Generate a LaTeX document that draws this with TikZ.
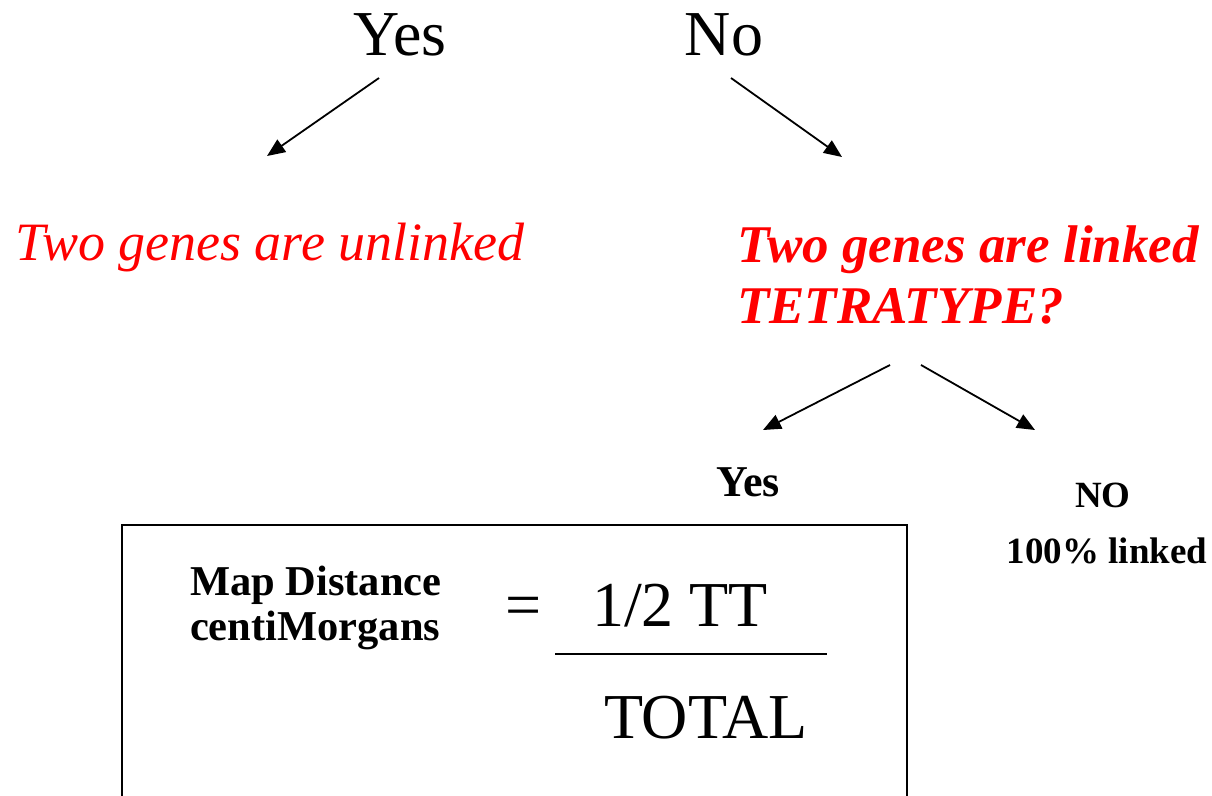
\documentclass[tikz,border=0pt]{standalone}
\usepackage{fontspec}
\setmainfont{Liberation Serif}
\usetikzlibrary{arrows.meta}
\tikzset{
  px/.style={x=1pt,y=-1pt},
  lbl/.style={inner sep=0pt,outer sep=0pt,anchor=base},
  big/.style={font=\fontsize{64}{70}\selectfont},
  redit/.style={text=red,font=\fontsize{54}{60}\selectfont\itshape},
  redbf/.style={text=red,font=\fontsize{53}{60}\selectfont\bfseries\itshape},
  smallbf/.style={font=\fontsize{44}{48}\selectfont\bfseries},
  tinybf/.style={font=\fontsize{37}{42}\selectfont\bfseries},
  mapbf/.style={font=\fontsize{42.5}{46}\selectfont\bfseries},
  arr/.style={line width=1.8pt,-{Triangle[length=18pt,width=15pt]}},
  boxline/.style={line width=1.8pt}
}
\begin{document}
\begin{tikzpicture}[px]
\useasboundingbox (0,0) rectangle (1212,795);
% top answers
\node[lbl,big] (yes) at (400,55) {Yes};
\node[lbl,big] (no) at (724,55) {No};
% arrows top
\coordinate (yesA) at (379,78);
\coordinate (yesB) at (267,156);
\coordinate (noA) at (731,78);
\coordinate (noB) at (842,157);
\draw[arr] (yesA) -- (yesB);
\draw[arr] (noA) -- (noB);
% red statements
\node[lbl,redit,anchor=base west] (unl) at (16,260) {Two genes are unlinked};
\node[lbl,redbf,anchor=base west] (lnk) at (737,262) {Two genes are linked};
\node[lbl,redbf,anchor=base west] (tt) at (737,323) {TETRATYPE?};
% second arrows
\coordinate (tA) at (890,365);
\coordinate (tB) at (763,430);
\coordinate (tC) at (921,365);
\coordinate (tD) at (1035,430);
\draw[arr] (tA) -- (tB);
\draw[arr] (tC) -- (tD);
% yes / no small
\node[lbl,smallbf] (yes2) at (748,496) {Yes};
\node[lbl,tinybf] (no2) at (1103,507) {NO};
\node[lbl,tinybf] (lk) at (1107,563) {100\% linked};
% box (open at bottom)
\coordinate (bl) at (122,800);
\coordinate (tl) at (122,525);
\coordinate (tr) at (907,525);
\coordinate (br) at (907,800);
\draw[boxline] (bl) -- (tl) -- (tr) -- (br);
% formula
\node[lbl,mapbf,anchor=base west] (md) at (190,595) {Map Distance};
\node[lbl,mapbf,anchor=base west] (cm) at (190,640) {centiMorgans};
\node[lbl,big] (eq) at (524,626) {=};
\node[lbl,big,anchor=base west] (num) at (592,626) {1/2 TT};
\coordinate (fl) at (555,654);
\coordinate (fr) at (827,654);
\draw[line width=1.8pt] (fl) -- (fr);
\node[lbl,big,anchor=base west] (den) at (604,738) {TOTAL};
\end{tikzpicture}
\end{document}
